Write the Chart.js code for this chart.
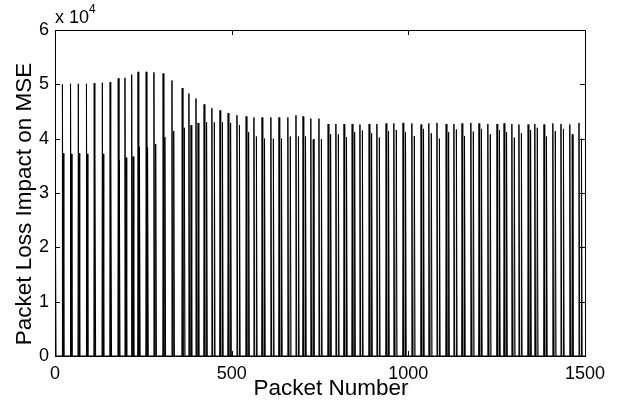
<!DOCTYPE html>
<html>
<head>
<meta charset="utf-8">
<script src="https://cdn.jsdelivr.net/npm/chart.js@4/dist/chart.umd.min.js"></script>
<style>
  html, body { margin: 0; padding: 0; background: #fff; }
  #wrap { width: 628px; height: 405px; }
</style>
</head>
<body>
<div id="wrap"><canvas id="mseChart"></canvas></div>
<script>
// packet loss impact on MSE - spikes
const tallPackets = [21, 44, 66, 89, 111, 134, 156, 179, 198, 217, 235, 258, 280, 306, 331, 360,
  379, 399, 422, 444, 467, 490, 515, 541, 563, 586, 611, 634, 659, 682, 702, 724,
  747, 773, 795, 818, 841, 863, 889, 911, 937, 959, 985, 1010, 1036, 1058, 1081, 1107,
  1129, 1152, 1177, 1200, 1225, 1251, 1271, 1293, 1313, 1339, 1358, 1384, 1409, 1432, 1457, 1483];
const tallValues = [50000, 50100, 50100, 50100, 50200, 50300, 50400, 51100, 51200, 51800, 52300, 52300, 52200, 52000, 50700, 49300,
  48300, 47400, 46300, 45600, 45200, 44700, 44300, 44100, 43900, 43900, 43900, 43900, 43900, 44300, 44100, 43700,
  43700, 42700, 42700, 42700, 42700, 42600, 42700, 42700, 42800, 42800, 42900, 42800, 42600, 42800, 42900, 42700,
  42700, 42800, 42900, 42800, 42700, 42700, 42800, 42700, 42600, 42600, 42700, 42600, 42800, 42700, 42600, 42900];

const secPackets = [1, 23, 46, 68, 91, 113, 136, 158, 182, 201, 221, 239, 262, 285, 311, 336, 366,
  385, 405, 429, 451, 474, 497, 522, 548, 570, 593, 618, 641, 666, 689, 709, 731,
  754, 780, 802, 825, 848, 870, 896, 918, 944, 966, 992, 1017, 1043, 1065, 1088, 1114,
  1136, 1159, 1184, 1207, 1232, 1258, 1278, 1300, 1320, 1346, 1365, 1391, 1416, 1439, 1464, 1490];
const secValues = [37300, 37300, 37200, 37300, 37200, 37300, 37200, 36600, 36000, 36500, 36700, 38500, 38400, 39000, 40300, 41400, 42000,
  42500, 42900, 43000, 43000, 43000, 42900, 42500, 41200, 40400, 40000, 40000, 40000, 40400, 40400, 40400, 39900,
  39900, 40800, 40800, 40300, 41200, 41500, 41000, 40200, 41400, 41600, 41200, 40500, 41800, 41000, 40000, 41200,
  41700, 40500, 41300, 41800, 40800, 41600, 41200, 40200, 41000, 41600, 42000, 40400, 41400, 41800, 40800, 40000];

const xTicks = [0, 500, 1000, 1500];
const yTicks = [0, 10000, 20000, 30000, 40000, 50000, 60000];

// build the line: each spike rises from 0 and falls back to 0
const spikes = [];
tallPackets.forEach((p, i) => spikes.push({ p: p, v: tallValues[i] }));
secPackets.forEach((p, i) => spikes.push({ p: p, v: secValues[i] }));
spikes.sort((a, b) => a.p - b.p);

const points = [{ x: 0, y: 0 }];
spikes.forEach((s) => {
  points.push({ x: Math.max(0, s.p - 1), y: 0 });
  points.push({ x: s.p, y: s.v });
  points.push({ x: s.p + 2, y: 0 });
});
points.push({ x: 1500, y: 0 });

const FONT = "'Liberation Sans', Arial, sans-serif";

// matlab style box, inward ticks, axis labels and the exponent label
const boxPlugin = {
  id: "boxPlugin",
  afterDraw(chart) {
    const { ctx, chartArea: a, scales } = chart;
    ctx.save();
    ctx.strokeStyle = "#000";
    ctx.lineWidth = 1;
    ctx.strokeRect(Math.round(a.left) + 0.5, Math.round(a.top) + 0.5,
      Math.round(a.right - a.left), Math.round(a.bottom - a.top));
    ctx.beginPath();
    yTicks.forEach((v) => {
      const y = Math.round(scales.y.getPixelForValue(v)) + 0.5;
      ctx.moveTo(a.left, y); ctx.lineTo(a.left + 5, y);
      ctx.moveTo(a.right, y); ctx.lineTo(a.right - 5, y);
    });
    xTicks.forEach((v) => {
      const x = Math.round(scales.x.getPixelForValue(v)) + 0.5;
      ctx.moveTo(x, a.bottom); ctx.lineTo(x, a.bottom - 5);
      ctx.moveTo(x, a.top); ctx.lineTo(x, a.top + 5);
    });
    ctx.stroke();

    ctx.fillStyle = "#000";
    ctx.textBaseline = "alphabetic";
    ctx.textAlign = "left";
    ctx.font = "18px " + FONT;
    ctx.fillText("x 10", 55, 23);
    ctx.font = "12px " + FONT;
    ctx.fillText("4", 89, 13);

    // axis titles
    ctx.font = "22.5px " + FONT;
    ctx.textAlign = "center";
    ctx.textBaseline = "middle";
    ctx.fillText("Packet Number", 331, 389);
    ctx.translate(25, 204);
    ctx.rotate(-Math.PI / 2);
    ctx.fillText("Packet Loss Impact on MSE", 0, 0);
    ctx.restore();
  },
};

const ctx = document.getElementById("mseChart").getContext("2d");

new Chart(ctx, {
  type: "line",
  data: {
    datasets: [
      {
        data: points,
        borderColor: "#000",
        borderWidth: 1,
        pointRadius: 0,
        tension: 0,
        fill: false,
      },
    ],
  },
  options: {
    responsive: true,
    maintainAspectRatio: false,
    animation: false,
    layout: { padding: { top: 30, right: 43, left: 0, bottom: 0 } },
    plugins: {
      legend: { display: false },
      tooltip: { enabled: false },
    },
    scales: {
      x: {
        type: "linear",
        min: 0,
        max: 1500,
        afterBuildTicks: (scale) => {
          scale.ticks = xTicks.map((v) => ({ value: v }));
        },
        afterFit: (scale) => { scale.height = 49; },
        grid: { display: false, drawTicks: false },
        border: { display: false },
        ticks: {
          color: "#000",
          padding: 7,
          maxRotation: 0,
          font: { family: FONT, size: 18 },
          callback: (val) => String(val),
        },
      },
      y: {
        min: 0,
        max: 60000,
        afterBuildTicks: (scale) => {
          scale.ticks = yTicks.map((v) => ({ value: v }));
        },
        afterFit: (scale) => { scale.width = 55; },
        grid: { display: false, drawTicks: false },
        border: { display: false },
        ticks: {
          color: "#000",
          padding: 6,
          font: { family: FONT, size: 18 },
          callback: (val) => String(val / 10000),
        },
      },
    },
  },
  plugins: [boxPlugin],
});
</script>
</body>
</html>
